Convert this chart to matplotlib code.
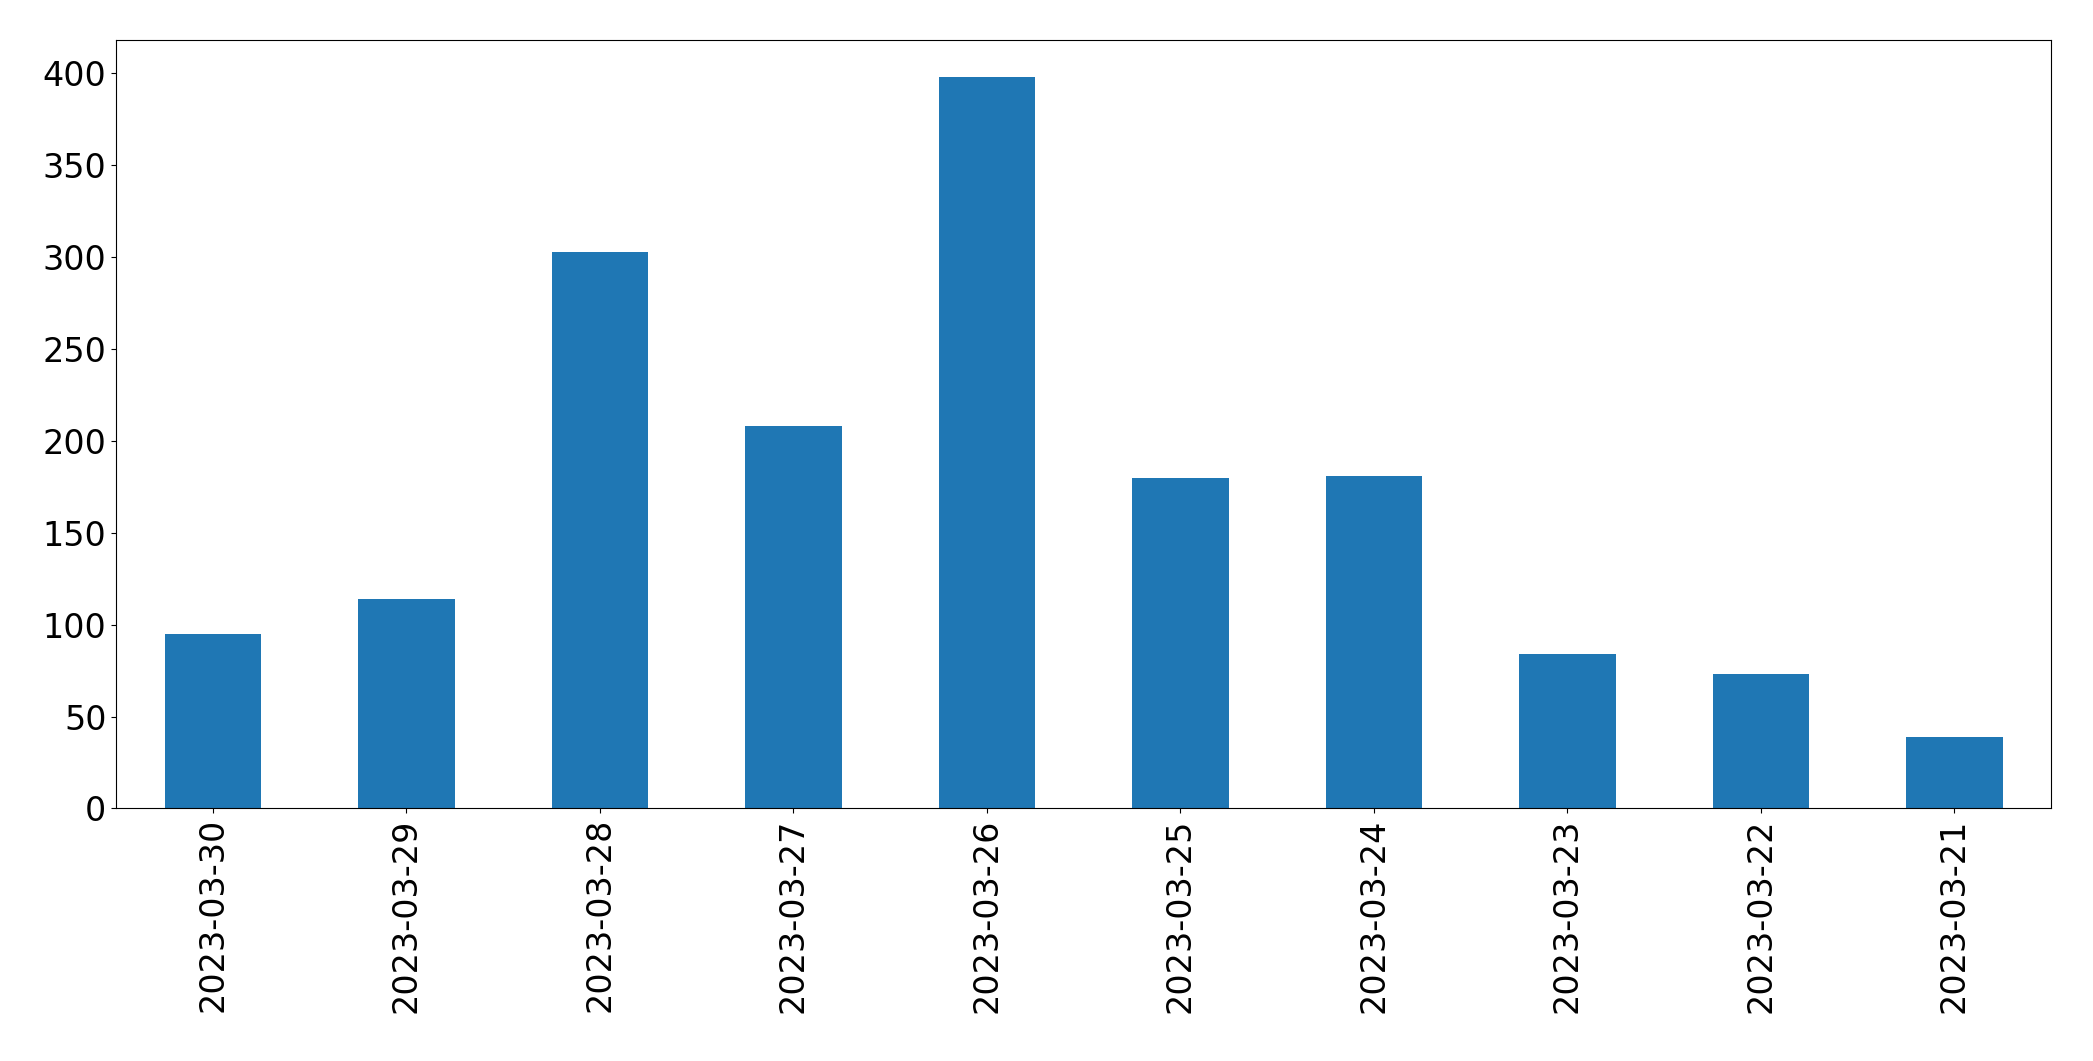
import matplotlib
matplotlib.use("Agg")
import matplotlib.pyplot as plt

dates = ["2023-03-30","2023-03-29","2023-03-28","2023-03-27","2023-03-26",
         "2023-03-25","2023-03-24","2023-03-23","2023-03-22","2023-03-21"]
counts = [95, 114, 303, 208, 398, 180, 181, 84, 73, 39]

fig = plt.figure(figsize=(20.93, 10.61), dpi=100)
ax = fig.add_axes([0.0555, 0.238, 0.9245, 0.724])
x = range(len(dates))
ax.bar(x, counts, width=0.5, color="#1f77b4")
ax.set_xticks(list(x))
ax.set_xticklabels(dates, rotation=90)
ax.set_xlim(-0.5, len(dates) - 0.5)
ax.set_ylim(0, 418)
ax.tick_params(labelsize=24)
fig.savefig("out.png", dpi=100)
